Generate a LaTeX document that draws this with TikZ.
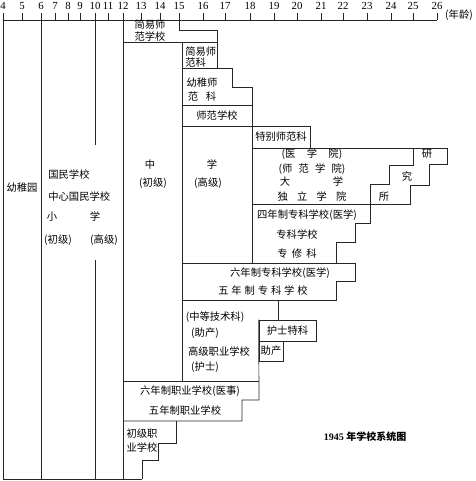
\documentclass[tikz,border=0pt]{standalone}
\usepackage{fontspec}
\setmainfont{Liberation Serif}
\newfontfamily\cjk{Noto Sans CJK SC}
\usetikzlibrary{positioning}

\tikzset{
  txt/.style={font=\cjk\fontsize{10.3}{12}\selectfont, inner sep=0pt},
  num/.style={font=\fontsize{10.8}{12}\selectfont, inner sep=0pt},
  box/.style={draw, inner sep=0pt}
}

\begin{document}
\begin{tikzpicture}[x=1pt,y=-1pt,line width=0.7pt,draw=black!85]
        \useasboundingbox (0,0) rectangle (475,481);
        % age axis
        \draw (3,20) -- (437,20);
        \foreach \a/\x in {4/3,5/22,6/41,7/55,8/68,9/80,10/95,11/108,12/123,13/141,14/160,15/179,16/203,17/225,18/250,19/274,20/297,21/321,22/343,23/367,24/391,25/413,26/437} {
            \draw (\x,13) -- (\x,20);
            \node[num] (age\a) at (\x,6) {\a};
        }
        \node[txt] (unit) at (459,15) {(年龄)};
        % kindergarten and primary school
        \draw (3,20) -- (3,479) -- (142,479);
        \draw (41,20) -- (41,479);
        \draw (95,20) -- (95,145) (95,260) -- (95,479);
        \draw (123,20) -- (123,479);
        % normal schools
        \draw (179,20) -- (179,30) -- (217,30) -- (217,68);
        \draw (123,42) -- (217,42);
        \draw (182,42) -- (182,381);
        \draw (182,68) -- (232,68) -- (232,87) -- (252,87) -- (252,263);
        \draw (182,105) -- (252,105);
        \draw (182,126) -- (310,126) -- (310,148);
        % university and research institute
        \draw (252,148) -- (447,148) -- (447,164) -- (429,164) -- (429,185) -- (410,185) -- (410,204) -- (252,204);
        \draw (413,148) -- (413,165) -- (389,165) -- (389,184) -- (370,184) -- (370,223) -- (355,223) -- (355,242) -- (336,242) -- (336,263);
        % special schools
        \draw (182,263) -- (355,263) -- (355,281) -- (336,281) -- (336,300) -- (182,300);
        \node[box,minimum width=57pt,minimum height=21pt] (hushi) at (287.5,330.5) {};
        \coordinate (zhuan5) at (278,300);
        \draw (zhuan5) -- (zhuan5 |- hushi.north);
        \draw (259,341) -- (259,361) -- (283,361) -- (283,341);
        % vocational schools
        \draw (123,381) -- (259,381);
        \draw (hushi.north west) -- (259,400) -- (242,400) -- (242,421) -- (123,421);
        \draw (176,421) -- (176,443) -- (158,443) -- (158,460) -- (142,460) -- (142,479);

        \node[txt] (kg) at (22,188) {幼稚园};
        \node[txt,anchor=west] (pri1) at (48,175) {国民学校};
        \node[txt,anchor=west] (pri2) at (48,197) {中心国民学校};
        \node[txt] (pri3) at (52,217) {小};
        \node[txt] (pri4) at (95,217) {学};
        \node[txt] (pri5) at (58,240) {(初级)};
        \node[txt] (pri6) at (104,240) {(高级)};
        \node[txt] (mid1) at (150,165) {中};
        \node[txt] (mid2) at (153,183) {(初级)};
        \node[txt] (mid3) at (212,165) {学};
        \node[txt] (mid4) at (208,183) {(高级)};

        \node[txt] (jy1) at (150,25) {简易师};
        \node[txt,below=1.5pt of jy1] (jy2) {范学校};
        \node[txt,anchor=west] (jk1) at (185,52) {简易师};
        \node[txt,anchor=north west] (jk2) at (jk1.south west) {范科};
        \node[txt] (yz1) at (202,83) {幼稚师};
        \node[txt,below=3.5pt of yz1] (yz2) {范\hspace{.75em}科};
        \node[txt] (sf) at (217,116) {师范学校};
        \node[txt] (tb) at (281,137) {特别师范科};

        \node[txt] (dx1) at (312,154) {(医\hspace{1.1em}学\hspace{1.1em}院)};
        \node[txt] (dx2) at (312,169) {(师\hspace{.6em}范\hspace{.6em}学\hspace{.6em}院)};
        \node[txt] (dx3) at (285,182) {大};
        \node[txt] (dx4) at (338,182) {学};
        \node[txt] (dx5) at (312,197) {独\hspace{.9em}立\hspace{.9em}学\hspace{.9em}院};
        \node[txt] (yj1) at (427,154) {研};
        \node[txt] (yj2) at (407,177) {究};
        \node[txt] (yj3) at (384,197) {所};

        \node[txt] (zk1) at (307,215) {四年制专科学校(医学)};
        \node[txt] (zk2) at (297,235) {专科学校};
        \node[txt] (zk3) at (297,254) {专\hspace{.4em}修\hspace{.4em}科};
        \node[txt] (zk4) at (280,273) {六年制专科学校(医学)};
        \node[txt] (zk5) at (263,291) {五\hspace{.28em}年\hspace{.28em}制\hspace{.28em}专\hspace{.28em}科\hspace{.28em}学\hspace{.28em}校};

        \node[txt] (gz1) at (215,317) {(中等技术科)};
        \node[txt] (gz2) at (205,333) {(助产)};
        \node[txt] (gz3) at (219,352) {高级职业学校};
        \node[txt] (gz4) at (205,367) {(护士)};
        \node[txt] (hs) at (hushi) {护士特科};
        \node[txt] (zc) at (271,351) {助产};

        \node[txt] (zy1) at (190,391) {六年制职业学校(医事)};
        \node[txt] (zy2) at (185,411) {五年制职业学校};
        \node[txt] (cz1) at (142,434) {初级职};
        \node[txt] (cz2) at (142,448) {业学校};

        \node[font=\bfseries\fontsize{10}{12}\selectfont, inner sep=0pt] (title) at (365,437) {1945 {\cjk 年学校系统图}};
    \end{tikzpicture}
\end{document}
